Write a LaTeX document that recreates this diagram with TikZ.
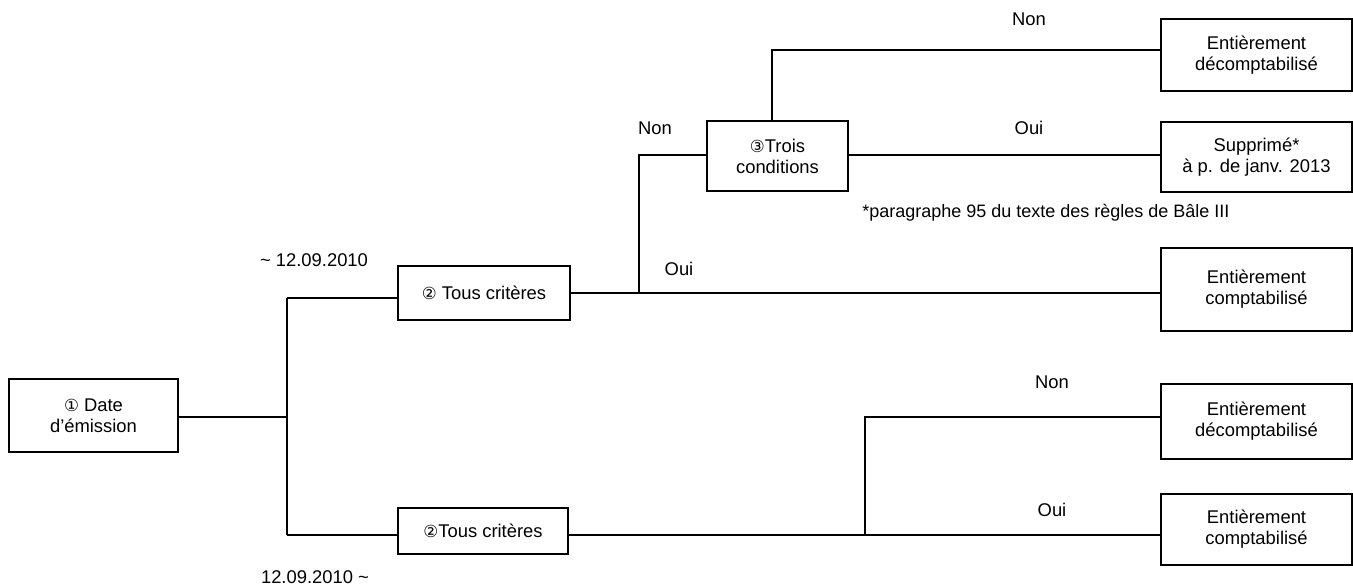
\documentclass[tikz,border=0pt]{standalone}
\usepackage{fontspec}
\setmainfont{Liberation Sans}
\newfontfamily\symfont{DejaVu Sans}
\newcommand{\circnum}[1]{{\symfont\fontsize{12.5}{13}\selectfont #1}}
\begin{document}
\begin{tikzpicture}[x=0.75pt,y=-0.75pt,
  every node/.style={font=\fontsize{13.8}{15.8}\selectfont},
  box/.style={draw,line width=1.3pt,rectangle,inner sep=0pt,align=center},
  lbl/.style={inner sep=0pt},
  note/.style={inner sep=0pt,font=\fontsize{13.5}{15.5}\selectfont},
  conn/.style={line width=1.3pt}]
\useasboundingbox (0,0) rectangle (1353,587);
% boxes
\node[box,minimum width=169*0.75pt,minimum height=73*0.75pt] (b1) at (93.5,415.5) {\circnum{①} Date\\d’émission};
\node[box,minimum width=172*0.75pt,minimum height=54*0.75pt] (b2) at (484,293) {\circnum{②} Tous critères};
\node[box,minimum width=141*0.75pt,minimum height=70*0.75pt] (b3) at (777.5,156) {\circnum{③}Trois\\conditions};
\node[box,minimum width=170*0.75pt,minimum height=46*0.75pt] (b6) at (483,531) {\circnum{②}Tous critères};
\node[box,minimum width=191*0.75pt,minimum height=72*0.75pt] (bA) at (1256.5,55) {Entièrement\\décomptabilisé};
\node[box,minimum width=191*0.75pt,minimum height=70*0.75pt] (bB) at (1256.5,157) {Supprimé*\\à p. de janv. 2013};
\node[box,minimum width=191*0.75pt,minimum height=83*0.75pt] (bC) at (1256.5,289.5) {Entièrement\\comptabilisé};
\node[box,minimum width=191*0.75pt,minimum height=75*0.75pt] (bD) at (1256.5,421.5) {Entièrement\\décomptabilisé};
\node[box,minimum width=191*0.75pt,minimum height=71*0.75pt] (bE) at (1256.5,529.5) {Entièrement\\comptabilisé};
% labels
\node[lbl] (l1) at (314,260) {\textasciitilde\ 12.09.2010};
\node[lbl] (l2) at (315,577) {12.09.2010 \textasciitilde};
\node[lbl] (l3) at (655,128) {Non};
\node[lbl] (l4) at (679,269) {Oui};
\node[lbl] (l5) at (1029,19) {Non};
\node[lbl] (l6) at (1029,128) {Oui};
\node[lbl] (l7) at (1052,382) {Non};
\node[lbl] (l8) at (1052,510) {Oui};
\node[note,anchor=west] (fn) at (862,213) {*paragraphe 95 du texte des règles de Bâle III};
% junction coordinates
\coordinate (j1) at (287,417);
\coordinate (j1t) at (287,298);
\coordinate (j1b) at (287,535);
\coordinate (j2) at (639,293);
\coordinate (j2t) at (639,155);
\coordinate (j3) at (772,50);
\coordinate (j4t) at (865,417);
\coordinate (j4b) at (865,535);
% connectors
\draw[conn] (j1 -| b1.east) -- (j1);
\draw[conn] (j1t) -- (j1b);
\draw[conn] (j1t) -- (j1t -| b2.west);
\draw[conn] (j1b) -- (j1b -| b6.west);
\draw[conn] (b2.east) -- (j2) -- (j2 -| bC.west);
\draw[conn] (j2) -- (j2t) -- (j2t -| b3.west);
\draw[conn] (b3.east |- j2t) -- (j2t -| bB.west);
\draw[conn] (j3 |- b3.north) -- (j3) -- (j3 -| bA.west);
\draw[conn] (b6.east |- j4b) -- (j4b) -- (j4b -| bE.west);
\draw[conn] (j4b) -- (j4t) -- (j4t -| bD.west);
\end{tikzpicture}
\end{document}
